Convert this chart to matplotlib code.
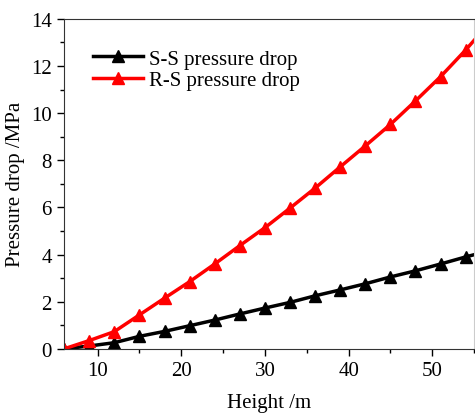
import matplotlib.pyplot as plt
from matplotlib.ticker import MultipleLocator

# --- DATA ---
height = [6, 9, 12, 15, 18, 21, 24, 27, 30, 33, 36, 39, 42, 45, 48, 51, 54, 57]
ss_drop = [0.0, 0.12, 0.26, 0.53, 0.74, 0.98, 1.22, 1.48, 1.73, 1.97, 2.25, 2.5, 2.76, 3.05, 3.31, 3.6, 3.9, 4.18]
rs_drop = [0.0, 0.35, 0.73, 1.44, 2.15, 2.85, 3.6, 4.38, 5.14, 5.97, 6.82, 7.72, 8.61, 9.52, 10.52, 11.55, 12.68, 13.9]
# ------------

plt.rcParams['font.family'] = ['Liberation Serif', 'DejaVu Serif']
plt.rcParams['font.size'] = 15

fig = plt.figure(figsize=(4.75, 4.14), dpi=100)
ax = fig.add_axes([0.135, 0.155, 0.863, 0.797])

ax.plot(height, ss_drop, color='black', lw=2.5, marker='^', ms=9, label='S-S pressure drop')
ax.plot(height, rs_drop, color='red', lw=2.5, marker='^', ms=9, label='R-S pressure drop')

ax.set_xlim(6, 55)
ax.set_ylim(0, 14)
ax.xaxis.set_major_locator(MultipleLocator(10))
ax.xaxis.set_minor_locator(MultipleLocator(5))
ax.yaxis.set_major_locator(MultipleLocator(2))
ax.yaxis.set_minor_locator(MultipleLocator(1))
ax.tick_params(which='major', direction='out', length=5, width=1, labelsize=15, pad=4)
ax.tick_params(which='minor', direction='out', length=3, width=1)
for s in ax.spines.values():
    s.set_color('#333333')
ax.spines['right'].set_color('#cccccc')

ax.set_xlabel('Height /m', fontsize=15, labelpad=9)
ax.set_ylabel('Pressure drop /MPa', fontsize=15, labelpad=4)

ax.legend(loc='upper left', bbox_to_anchor=(0.025, 0.965), frameon=False,
          handlelength=2.4, handletextpad=0.3, fontsize=15, labelspacing=0.1)

fig.savefig('out.png', dpi=100)
